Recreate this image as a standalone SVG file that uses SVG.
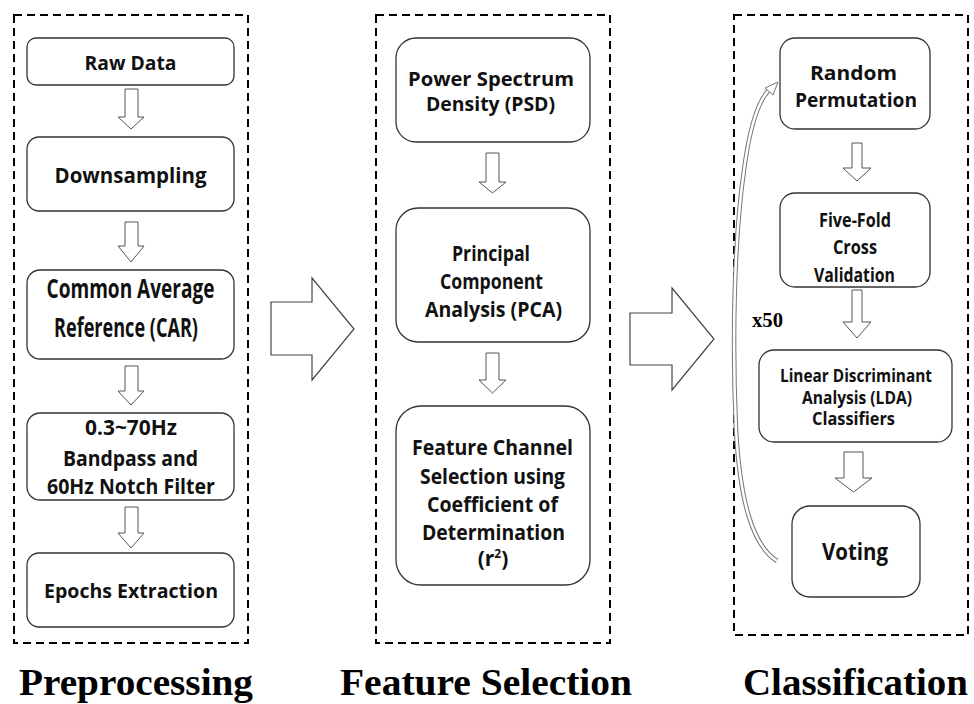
<svg xmlns="http://www.w3.org/2000/svg" width="974" height="704" viewBox="0 0 974 704">
  <style>
    .stage { fill: none; stroke: #000; stroke-width: 2; stroke-dasharray: 8 5; }
    .box { fill: #fff; stroke: #333; stroke-width: 1.3; }
    .lbl { font-family: "Open Sans", Lato, "Liberation Sans", sans-serif; font-weight: 700; fill: #111; text-anchor: middle; }
    .down { fill: #fff; stroke: #555; stroke-width: 1; }
    .big { fill: #fff; stroke: #444; stroke-width: 1.2; }
    .title { font-family: "Liberation Serif", "Times New Roman", serif; font-weight: 700; font-size: 38px; fill: #000; }
    .loop-outer { fill: none; stroke: #777; stroke-width: 4.5; stroke-linecap: butt; }
    .loop-inner { fill: none; stroke: #fff; stroke-width: 2.5; stroke-linecap: butt; }
  </style>

  <rect width="974" height="704" fill="#fff"/>

  <!-- stage frames -->
  <g id="stages">
    <rect class="stage" x="14" y="15" width="234" height="628"/>
    <rect class="stage" x="376" y="15" width="234" height="628"/>
    <rect class="stage" x="734" y="15" width="234" height="620"/>
  </g>

  <!-- connectors -->
  <g id="connectors">
    <!-- preprocessing column -->
    <polygon class="down" points="125,89 138,89 138,117 144,117 131,129 118,117 125,117"/>
    <polygon class="down" points="125,222 138,222 138,246 144,246 131,262 118,246 125,246"/>
    <polygon class="down" points="125,366 138,366 138,391 144,391 131,405 118,391 125,391"/>
    <polygon class="down" points="125,507 138,507 138,533 144,533 131,548 118,533 125,533"/>
    <!-- feature selection column -->
    <polygon class="down" points="486,153 499,153 499,182 506,182 492.5,193 479,182 486,182"/>
    <polygon class="down" points="486,353 499,353 499,380 506,380 492.5,393 479,380 486,380"/>
    <!-- classification column -->
    <polygon class="down" points="852,143 862,143 862,168 871,168 857,181 843,168 852,168"/>
    <polygon class="down" points="852,290 862,290 862,322 871,322 857,338 843,322 852,322"/>
    <polygon class="down" points="844,452 863,452 863,478 872,478 853.5,492 835,478 844,478"/>
    <!-- stage-to-stage block arrows -->
    <polygon class="big" points="271,302 312,302 312,278 354,329 312,380 312,355 271,355"/>
    <polygon class="big" points="630,313 672,313 672,288 714,339 672,390 672,365 630,365"/>
    <!-- repeat loop -->
    <path class="loop-outer" d="M777,561 C752,545 740,500 736,430 C732,340 734,240 744,170 C750,125 758,100 770,89"/>
    <path class="loop-inner" d="M777,561 C752,545 740,500 736,430 C732,340 734,240 744,170 C750,125 758,100 770,89"/>
    <polygon fill="#fff" stroke="#777" stroke-width="1" points="765,88 778,82 773,95"/>
    <text x="767.5" y="327" font-family="Liberation Serif, Times New Roman, serif" font-weight="700" font-size="21" text-anchor="middle" textLength="31" lengthAdjust="spacingAndGlyphs">x50</text>
  </g>

  <!-- preprocessing nodes -->
  <g id="raw-data">
    <rect class="box" x="27" y="38" width="207" height="47" rx="9"/>
    <text class="lbl" x="130.5" y="70" font-size="19" textLength="92" lengthAdjust="spacingAndGlyphs">Raw Data</text>
  </g>
  <g id="downsampling">
    <rect class="box" x="27" y="137" width="207" height="74" rx="12"/>
    <text class="lbl" x="130.5" y="183" font-size="22" textLength="152" lengthAdjust="spacingAndGlyphs">Downsampling</text>
  </g>
  <g id="car">
    <rect class="box" x="27" y="270" width="207" height="89" rx="13"/>
    <text class="lbl" x="130.5" y="298" font-size="26" textLength="168" lengthAdjust="spacingAndGlyphs">Common Average</text>
    <text class="lbl" x="126" y="337" font-size="26" textLength="144" lengthAdjust="spacingAndGlyphs">Reference (CAR)</text>
  </g>
  <g id="filter">
    <rect class="box" x="27" y="413" width="207" height="87" rx="13"/>
    <text class="lbl" x="131" y="435" font-size="22" textLength="92" lengthAdjust="spacingAndGlyphs">0.3~70Hz</text>
    <text class="lbl" x="130.5" y="466" font-size="22" textLength="135" lengthAdjust="spacingAndGlyphs">Bandpass and</text>
    <text class="lbl" x="131" y="494" font-size="22" textLength="168" lengthAdjust="spacingAndGlyphs">60Hz Notch Filter</text>
  </g>
  <g id="epochs">
    <rect class="box" x="27" y="553" width="207" height="74" rx="12"/>
    <text class="lbl" x="131" y="598" font-size="20" textLength="174" lengthAdjust="spacingAndGlyphs">Epochs Extraction</text>
  </g>

  <!-- feature selection nodes -->
  <g id="psd">
    <rect class="box" x="396" y="38" width="194" height="104" rx="20"/>
    <text class="lbl" x="491" y="86" font-size="20" textLength="166" lengthAdjust="spacingAndGlyphs">Power Spectrum</text>
    <text class="lbl" x="490.5" y="110.5" font-size="20" textLength="129" lengthAdjust="spacingAndGlyphs">Density (PSD)</text>
  </g>
  <g id="pca">
    <rect class="box" x="396" y="208" width="194" height="134" rx="22"/>
    <text class="lbl" x="491" y="260.5" font-size="21" textLength="78" lengthAdjust="spacingAndGlyphs">Principal</text>
    <text class="lbl" x="491.5" y="289" font-size="21" textLength="103" lengthAdjust="spacingAndGlyphs">Component</text>
    <text class="lbl" x="493.5" y="316.5" font-size="21" textLength="137" lengthAdjust="spacingAndGlyphs">Analysis (PCA)</text>
  </g>
  <g id="channel-selection">
    <rect class="box" x="396" y="406" width="194" height="179" rx="25"/>
    <text class="lbl" x="492.5" y="455" font-size="21.5" textLength="161" lengthAdjust="spacingAndGlyphs">Feature Channel</text>
    <text class="lbl" x="492.5" y="483.5" font-size="21.5" textLength="145" lengthAdjust="spacingAndGlyphs">Selection using</text>
    <text class="lbl" x="492.5" y="511.5" font-size="21.5" textLength="131" lengthAdjust="spacingAndGlyphs">Coefficient of</text>
    <text class="lbl" x="493.5" y="540" font-size="21.5" textLength="143" lengthAdjust="spacingAndGlyphs">Determination</text>
    <text class="lbl" x="493" y="566" font-size="21">(r<tspan font-size="12" dy="-8">2</tspan><tspan dy="8">)</tspan></text>
  </g>

  <!-- classification nodes -->
  <g id="permutation">
    <rect class="box" x="780" y="38" width="150" height="91" rx="15"/>
    <text class="lbl" x="853.5" y="79.5" font-size="20" textLength="87" lengthAdjust="spacingAndGlyphs">Random</text>
    <text class="lbl" x="856" y="106.5" font-size="20" textLength="122" lengthAdjust="spacingAndGlyphs">Permutation</text>
  </g>
  <g id="cross-validation">
    <rect class="box" x="780" y="193" width="150" height="94" rx="15"/>
    <text class="lbl" x="855" y="226.5" font-size="20" textLength="72" lengthAdjust="spacingAndGlyphs">Five-Fold</text>
    <text class="lbl" x="855" y="253.5" font-size="20" textLength="44" lengthAdjust="spacingAndGlyphs">Cross</text>
    <text class="lbl" x="854.5" y="281.5" font-size="20" textLength="81" lengthAdjust="spacingAndGlyphs">Validation</text>
  </g>
  <g id="lda">
    <rect class="box" x="759" y="350" width="193" height="92" rx="15"/>
    <text class="lbl" x="856" y="381.5" font-size="17" textLength="152" lengthAdjust="spacingAndGlyphs">Linear Discriminant</text>
    <text class="lbl" x="857" y="403.5" font-size="17" textLength="110" lengthAdjust="spacingAndGlyphs">Analysis (LDA)</text>
    <text class="lbl" x="853.5" y="425" font-size="17" textLength="83" lengthAdjust="spacingAndGlyphs">Classifiers</text>
  </g>
  <g id="voting">
    <rect class="box" x="792" y="506" width="128" height="91" rx="18"/>
    <text class="lbl" x="855" y="560" font-size="24" textLength="66" lengthAdjust="spacingAndGlyphs">Voting</text>
  </g>

  <!-- stage titles -->
  <g id="titles">
    <text class="title" x="19" y="695" textLength="234" lengthAdjust="spacingAndGlyphs">Preprocessing</text>
    <text class="title" x="340" y="695" textLength="292" lengthAdjust="spacingAndGlyphs">Feature Selection</text>
    <text class="title" x="743" y="695" textLength="225" lengthAdjust="spacingAndGlyphs">Classification</text>
  </g>
</svg>
